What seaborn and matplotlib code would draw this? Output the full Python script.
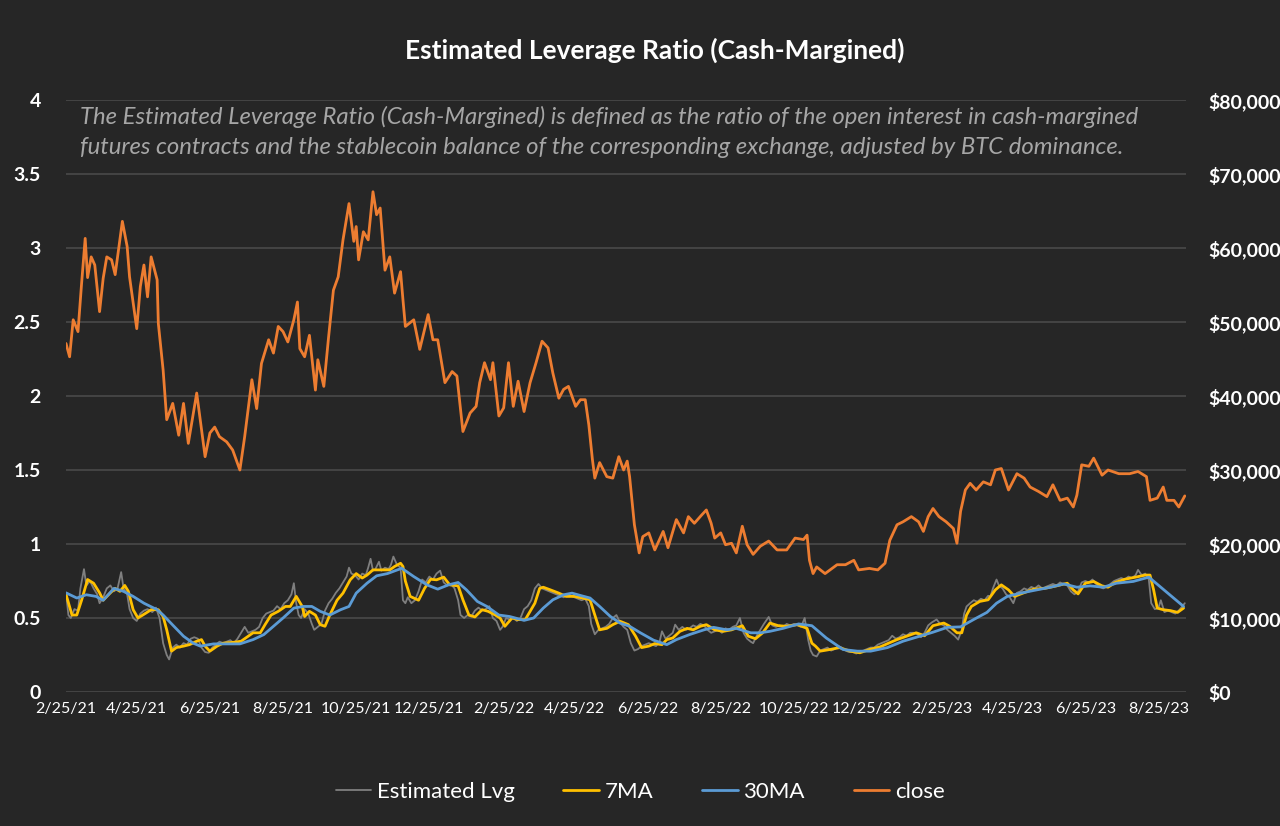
import numpy as np
import pandas as pd
import matplotlib
matplotlib.use("Agg")
import matplotlib.pyplot as plt
import seaborn as sns
from matplotlib.ticker import FixedLocator

# ---------------- data ----------------
START = "2021-02-25"

close_days = [0, 3, 6, 10, 13, 16, 18, 21, 24, 28, 31, 34, 38, 41, 44, 47, 51, 53, 59, 62,
              65, 68, 71, 76, 77, 81, 84, 89, 94, 98, 102, 109, 116, 120, 124, 128, 134, 139, 145, 149,
              155, 159, 163, 169, 173, 177, 181, 185, 190, 193, 195, 199, 203, 208, 210, 215, 219, 223, 227, 231,
              236, 240, 242, 244, 248, 252, 256, 259, 262, 266, 270, 274, 279, 281, 283, 290, 295, 302, 306, 310,
              316, 322, 326, 331, 337, 342, 345, 349, 354, 356, 361, 365, 369, 373, 377, 382, 387, 392, 397, 402,
              406, 411, 415, 419, 425, 429, 433, 436, 439, 441, 445, 451, 456, 461, 465, 468, 470, 474, 478, 481,
              486, 491, 498, 502, 509, 515, 519, 524, 530, 534, 538, 541, 546, 550, 555, 559, 564, 568, 573, 579,
              586, 593, 601, 608, 615, 618, 620, 623, 626, 633, 643, 650, 657, 661, 670, 677, 683, 687, 693, 698,
              705, 711, 715, 719, 723, 728, 734, 740, 743, 746, 750, 754, 759, 765, 771, 775, 780, 786, 793, 799,
              804, 811, 818, 823, 829, 835, 840, 843, 847, 853, 857, 864, 869, 878, 887, 894, 901, 904, 910, 915,
              918, 924, 928, 933]
close_k = [47.1, 45.3, 50.3, 48.7, 55.2, 61.3, 56.0, 58.8, 57.7, 51.4, 55.9, 58.8, 58.4, 56.4, 60.0, 63.6, 60.2, 56.1, 49.1, 54.8,
           57.7, 53.4, 58.8, 55.7, 49.8, 43.5, 36.8, 39.0, 34.7, 39.0, 33.6, 40.4, 31.8, 35.0, 35.8, 34.5, 33.8, 32.7, 30.0, 34.5,
           42.2, 38.3, 44.4, 47.6, 45.8, 49.4, 48.7, 47.3, 50.3, 52.7, 46.4, 45.3, 48.2, 40.8, 44.9, 41.3, 48.0, 54.3, 56.1, 61.1,
           66.0, 60.9, 62.9, 58.4, 62.2, 61.1, 67.6, 64.5, 65.4, 57.0, 58.8, 53.9, 56.8, 53.0, 49.4, 50.3, 46.3, 51.0, 47.6, 47.6,
           41.8, 43.3, 42.7, 35.2, 37.7, 38.6, 41.8, 44.5, 42.2, 44.5, 37.3, 38.4, 44.5, 38.6, 42.0, 37.9, 41.8, 44.5, 47.4, 46.5,
           43.1, 39.7, 40.9, 41.3, 38.6, 39.5, 39.5, 36.1, 31.4, 28.9, 31.0, 29.1, 28.9, 31.8, 30.0, 31.2, 29.1, 22.6, 18.8, 21.0,
           21.5, 19.2, 21.7, 19.5, 23.3, 21.5, 23.7, 22.8, 23.9, 24.6, 22.8, 20.8, 21.5, 19.9, 20.1, 18.8, 22.4, 19.9, 18.6, 19.7,
           20.4, 19.2, 19.2, 20.8, 20.6, 21.2, 17.8, 16.0, 16.9, 16.0, 17.2, 17.2, 17.8, 16.5, 16.7, 16.5, 17.4, 20.5, 22.6, 23.0,
           23.7, 23.0, 21.7, 23.7, 24.8, 23.7, 23.0, 22.1, 20.1, 24.4, 27.3, 28.2, 27.3, 28.4, 28.0, 30.0, 30.2, 27.3, 29.5, 28.9,
           27.7, 27.1, 26.4, 28.0, 25.9, 26.2, 25.0, 26.6, 30.7, 30.5, 31.6, 29.3, 30.0, 29.5, 29.5, 29.8, 29.1, 25.9, 26.2, 27.7,
           25.9, 25.9, 25.0, 26.5]

lvg_days = [0, 2, 4, 7, 10, 12, 15, 17, 20, 23, 26, 28, 31, 34, 37, 40, 43, 46, 48, 51,
            53, 56, 59, 62, 65, 68, 72, 75, 78, 81, 84, 86, 89, 92, 95, 98, 101, 104, 107, 110,
            113, 116, 119, 122, 125, 128, 131, 134, 137, 140, 143, 146, 149, 152, 155, 158, 161, 164, 167, 170,
            173, 176, 179, 182, 185, 188, 190, 192, 194, 196, 199, 202, 205, 207, 210, 213, 216, 219, 222, 225,
            228, 231, 234, 236, 238, 241, 244, 247, 250, 252, 254, 256, 258, 261, 263, 266, 269, 271, 273, 276,
            279, 281, 283, 285, 288, 291, 294, 297, 300, 303, 306, 309, 312, 315, 318, 321, 324, 327, 329, 332,
            335, 338, 341, 344, 347, 350, 353, 356, 359, 362, 364, 367, 370, 373, 376, 379, 382, 385, 388, 391,
            394, 397, 400, 403, 406, 409, 412, 415, 418, 421, 424, 427, 430, 433, 436, 438, 441, 444, 447, 450,
            453, 456, 459, 462, 465, 468, 471, 474, 477, 480, 483, 486, 489, 492, 495, 497, 500, 503, 506, 508,
            511, 514, 517, 520, 523, 526, 529, 532, 535, 538, 541, 544, 547, 550, 553, 556, 559, 562, 565, 568,
            571, 573, 576, 579, 582, 586, 589, 592, 595, 598, 601, 604, 607, 610, 613, 616, 619, 621, 623, 626,
            629, 632, 635, 638, 641, 644, 647, 650, 653, 656, 659, 662, 665, 668, 671, 674, 677, 680, 683, 686,
            689, 692, 695, 698, 701, 704, 707, 710, 713, 716, 719, 722, 726, 729, 732, 735, 738, 741, 744, 747,
            749, 751, 754, 757, 760, 763, 766, 769, 771, 773, 776, 778, 781, 784, 787, 790, 793, 796, 799, 802,
            805, 808, 811, 814, 817, 820, 823, 826, 829, 832, 835, 838, 841, 844, 847, 850, 853, 856, 859, 862,
            865, 868, 871, 874, 877, 880, 883, 886, 889, 892, 894, 897, 900, 903, 905, 908, 911, 913, 916, 919,
            922, 925, 928, 931, 933]
lvg_vals = [0.67, 0.52, 0.50, 0.56, 0.55, 0.70, 0.83, 0.72, 0.75, 0.70, 0.66, 0.60, 0.64, 0.70, 0.72, 0.68, 0.70, 0.81, 0.70, 0.66,
            0.56, 0.50, 0.48, 0.53, 0.55, 0.56, 0.54, 0.57, 0.50, 0.33, 0.25, 0.22, 0.30, 0.32, 0.30, 0.33, 0.32, 0.36, 0.37, 0.36,
            0.30, 0.27, 0.265, 0.30, 0.32, 0.34, 0.33, 0.34, 0.35, 0.33, 0.36, 0.40, 0.44, 0.40, 0.41, 0.42, 0.44, 0.50, 0.53, 0.54,
            0.55, 0.58, 0.56, 0.60, 0.62, 0.66, 0.735, 0.60, 0.52, 0.50, 0.56, 0.53, 0.46, 0.42, 0.44, 0.46, 0.55, 0.60, 0.63, 0.67,
            0.70, 0.74, 0.78, 0.84, 0.80, 0.79, 0.76, 0.80, 0.79, 0.84, 0.90, 0.82, 0.83, 0.88, 0.82, 0.84, 0.83, 0.86, 0.915, 0.86,
            0.84, 0.62, 0.60, 0.64, 0.60, 0.62, 0.68, 0.76, 0.74, 0.78, 0.76, 0.80, 0.82, 0.74, 0.72, 0.73, 0.70, 0.62, 0.52, 0.50,
            0.52, 0.51, 0.55, 0.57, 0.55, 0.56, 0.58, 0.50, 0.48, 0.42, 0.44, 0.50, 0.49, 0.50, 0.48, 0.50, 0.56, 0.58, 0.62, 0.70,
            0.73, 0.70, 0.69, 0.68, 0.67, 0.66, 0.65, 0.64, 0.66, 0.65, 0.64, 0.63, 0.62, 0.63, 0.58, 0.46, 0.39, 0.42, 0.43, 0.44,
            0.46, 0.50, 0.52, 0.47, 0.44, 0.42, 0.33, 0.28, 0.29, 0.31, 0.32, 0.33, 0.32, 0.31, 0.34, 0.41, 0.36, 0.38, 0.40, 0.455,
            0.42, 0.44, 0.42, 0.43, 0.45, 0.44, 0.46, 0.45, 0.42, 0.40, 0.41, 0.42, 0.40, 0.43, 0.42, 0.44, 0.45, 0.50, 0.40, 0.36,
            0.34, 0.33, 0.38, 0.42, 0.46, 0.507, 0.45, 0.44, 0.45, 0.44, 0.46, 0.45, 0.46, 0.45, 0.44, 0.50, 0.35, 0.28, 0.25, 0.24,
            0.28, 0.29, 0.30, 0.28, 0.29, 0.31, 0.30, 0.28, 0.27, 0.27, 0.26, 0.27, 0.28, 0.29, 0.30, 0.30, 0.32, 0.33, 0.34, 0.35,
            0.38, 0.36, 0.37, 0.39, 0.38, 0.40, 0.40, 0.39, 0.37, 0.40, 0.45, 0.47, 0.49, 0.46, 0.45, 0.42, 0.40, 0.38, 0.354, 0.42,
            0.53, 0.578, 0.60, 0.62, 0.61, 0.63, 0.62, 0.65, 0.646, 0.70, 0.76, 0.72, 0.70, 0.66, 0.64, 0.60, 0.67, 0.68, 0.70, 0.69,
            0.71, 0.70, 0.72, 0.70, 0.71, 0.72, 0.73, 0.72, 0.74, 0.73, 0.72, 0.68, 0.66, 0.68, 0.74, 0.75, 0.74, 0.76, 0.73, 0.71,
            0.70, 0.71, 0.73, 0.75, 0.76, 0.77, 0.76, 0.78, 0.77, 0.79, 0.825, 0.79, 0.80, 0.76, 0.60, 0.56, 0.567, 0.62, 0.54, 0.55,
            0.54, 0.53, 0.55, 0.58, 0.60]

ma7_days = [0, 5, 9, 13, 18, 23, 28, 31, 37, 41, 45, 49, 52, 56, 60, 66, 71, 77, 81, 84,
            88, 92, 98, 103, 109, 113, 116, 120, 126, 131, 140, 146, 152, 156, 162, 166, 171, 177, 183, 187,
            192, 197, 199, 203, 208, 212, 216, 220, 226, 231, 237, 242, 247, 251, 256, 263, 270, 274, 279, 281,
            283, 287, 294, 299, 304, 309, 315, 320, 327, 331, 336, 341, 347, 352, 358, 362, 366, 372, 377, 383,
            387, 391, 395, 398, 404, 411, 417, 424, 431, 437, 441, 445, 451, 456, 462, 469, 475, 480, 486, 491,
            497, 501, 506, 512, 518, 523, 529, 534, 541, 548, 555, 564, 569, 575, 581, 587, 594, 601, 610, 618,
            622, 625, 629, 637, 645, 654, 662, 670, 679, 686, 693, 701, 709, 716, 723, 732, 737, 743, 747, 751,
            755, 762, 769, 775, 780, 786, 791, 798, 807, 816, 826, 835, 840, 844, 850, 857, 864, 869, 875, 883,
            892, 900, 904, 907, 910, 915, 921, 927, 932]
ma7_vals = [0.66, 0.52, 0.52, 0.62, 0.76, 0.735, 0.67, 0.62, 0.67, 0.70, 0.68, 0.72, 0.68, 0.556, 0.50, 0.53, 0.556, 0.556, 0.51, 0.42,
            0.276, 0.30, 0.31, 0.32, 0.343, 0.354, 0.31, 0.276, 0.31, 0.33, 0.336, 0.343, 0.377, 0.40, 0.40, 0.455, 0.52, 0.545, 0.578, 0.578,
            0.646, 0.578, 0.51, 0.545, 0.52, 0.455, 0.444, 0.52, 0.62, 0.668, 0.758, 0.80, 0.77, 0.79, 0.825, 0.825, 0.825, 0.848, 0.87, 0.848,
            0.75, 0.646, 0.62, 0.70, 0.762, 0.758, 0.776, 0.724, 0.717, 0.623, 0.52, 0.507, 0.556, 0.545, 0.52, 0.50, 0.444, 0.50, 0.489, 0.489,
            0.545, 0.60, 0.70, 0.708, 0.69, 0.668, 0.646, 0.646, 0.635, 0.623, 0.52, 0.42, 0.43, 0.455, 0.478, 0.455, 0.377, 0.30, 0.31, 0.327,
            0.32, 0.354, 0.365, 0.41, 0.43, 0.42, 0.444, 0.455, 0.42, 0.41, 0.42, 0.448, 0.377, 0.36, 0.40, 0.466, 0.448, 0.444, 0.455, 0.43,
            0.33, 0.31, 0.276, 0.287, 0.30, 0.276, 0.265, 0.287, 0.305, 0.33, 0.354, 0.377, 0.40, 0.38, 0.448, 0.466, 0.444, 0.40, 0.40, 0.52,
            0.578, 0.612, 0.623, 0.69, 0.724, 0.69, 0.646, 0.668, 0.695, 0.70, 0.717, 0.735, 0.69, 0.663, 0.735, 0.747, 0.717, 0.708, 0.74, 0.762,
            0.776, 0.79, 0.79, 0.69, 0.567, 0.556, 0.55, 0.538, 0.567]

ma30_days = [0, 9, 17, 25, 31, 40, 48, 56, 65, 76, 81, 90, 98, 106, 112, 123, 134, 145, 156, 165,
             173, 181, 190, 198, 205, 212, 220, 229, 236, 242, 251, 259, 268, 274, 280, 290, 301, 310, 319, 327,
             334, 343, 351, 361, 370, 382, 390, 398, 406, 415, 422, 430, 437, 445, 454, 462, 470, 479, 490, 501,
             509, 520, 532, 540, 551, 559, 571, 579, 587, 598, 611, 622, 634, 648, 660, 671, 685, 698, 712, 723,
             735, 746, 757, 768, 776, 785, 796, 807, 821, 832, 843, 854, 865, 876, 890, 903, 932]
ma30_vals = [0.67, 0.635, 0.657, 0.646, 0.62, 0.70, 0.68, 0.646, 0.60, 0.556, 0.52, 0.444, 0.377, 0.33, 0.31, 0.325, 0.325, 0.325, 0.354, 0.388,
             0.444, 0.50, 0.567, 0.578, 0.578, 0.545, 0.52, 0.556, 0.578, 0.668, 0.735, 0.785, 0.80, 0.818, 0.836, 0.78, 0.724, 0.695, 0.724, 0.74,
             0.69, 0.612, 0.578, 0.52, 0.51, 0.484, 0.50, 0.567, 0.623, 0.657, 0.668, 0.65, 0.635, 0.578, 0.51, 0.466, 0.444, 0.40, 0.35, 0.32,
             0.354, 0.388, 0.42, 0.437, 0.42, 0.43, 0.40, 0.40, 0.41, 0.43, 0.46, 0.448, 0.365, 0.287, 0.276, 0.276, 0.30, 0.343, 0.377, 0.404,
             0.437, 0.44, 0.49, 0.538, 0.60, 0.646, 0.668, 0.686, 0.708, 0.73, 0.708, 0.717, 0.708, 0.735, 0.747, 0.776, 0.578]

x_tick_labels = ["2/25/21", "4/25/21", "6/25/21", "8/25/21", "10/25/21", "12/25/21",
                 "2/25/22", "4/25/22", "6/25/22", "8/25/22", "10/25/22", "12/25/22",
                 "2/25/23", "4/25/23", "6/25/23", "8/25/23"]
left_ticks = [0, 0.5, 1, 1.5, 2, 2.5, 3, 3.5, 4]
left_tick_labels = ["0", "0.5", "1", "1.5", "2", "2.5", "3", "3.5", "4"]
right_ticks_k = [0, 10, 20, 30, 40, 50, 60, 70, 80]
right_tick_labels = ["$0", "$10,000", "$20,000", "$30,000", "$40,000",
                     "$50,000", "$60,000", "$70,000", "$80,000"]

title = "Estimated Leverage Ratio (Cash-Margined)"
subtitle_1 = "The Estimated Leverage Ratio (Cash-Margined) is defined as the ratio of the open interest in cash-margined"
subtitle_2 = "futures contracts and the stablecoin balance of the corresponding exchange, adjusted by BTC dominance."
series_names = ["Estimated Lvg", "7MA", "30MA", "close"]

# ---------------- styling ----------------
BG = "#262626"
GRID = "#4a4a4a"
C_LVG = "#7f7f7f"
C_MA7 = "#ffc000"
C_MA30 = "#5b9bd5"
C_CLOSE = "#ed7d31"

sns.set_theme(style="dark", rc={"axes.facecolor": BG, "figure.facecolor": BG,
                                "savefig.facecolor": BG})
plt.rcParams["font.family"] = ["Lato", "DejaVu Sans"]


def to_dates(days):
    return pd.Timestamp(START) + pd.to_timedelta(days, unit="D")


df_close = pd.DataFrame({"date": to_dates(close_days), "value": close_k})
df_lvg = pd.DataFrame({"date": to_dates(lvg_days), "value": lvg_vals})
df_ma7 = pd.DataFrame({"date": to_dates(ma7_days), "value": ma7_vals})
df_ma30 = pd.DataFrame({"date": to_dates(ma30_days), "value": ma30_vals})

W, H = 1280, 826
fig = plt.figure(figsize=(W / 100, H / 100), dpi=100)
ax = fig.add_axes([66 / W, 1 - 692 / H, 1120 / W, 592 / H])
ax.set_facecolor(BG)

sns.lineplot(data=df_lvg, x="date", y="value", ax=ax, color=C_LVG, lw=1.3, label=series_names[0], legend=False)
sns.lineplot(data=df_ma7, x="date", y="value", ax=ax, color=C_MA7, lw=2.0, label=series_names[1], legend=False)
sns.lineplot(data=df_ma30, x="date", y="value", ax=ax, color=C_MA30, lw=2.0, label=series_names[2], legend=False)

ax2 = ax.twinx()
sns.lineplot(data=df_close, x="date", y="value", ax=ax2, color=C_CLOSE, lw=2.0, label=series_names[3], legend=False)

x0 = pd.Timestamp(START)
x1 = x0 + pd.Timedelta(days=934)
ax.set_xlim(x0, x1)
ax.set_ylim(0, 4)
ax2.set_ylim(0, 80)

tick_dates = pd.to_datetime(x_tick_labels, format="%m/%d/%y")
ax.set_xticks(tick_dates)
ax.set_xticklabels(x_tick_labels, color="white", fontsize=11.5)
ax.yaxis.set_major_locator(FixedLocator(left_ticks))
ax.set_yticklabels(left_tick_labels, color="white", fontsize=14, fontweight="bold")
ax2.yaxis.set_major_locator(FixedLocator(right_ticks_k))
ax2.set_yticklabels(right_tick_labels, color="white", fontsize=14, fontweight="bold")

ax.tick_params(axis="x", length=0, pad=7)
ax.tick_params(axis="y", length=0, pad=18)
ax2.tick_params(axis="y", length=0, pad=16)

ax.grid(True, axis="y", color=GRID, lw=1.2)
ax.grid(False, axis="x")
ax2.grid(False)
ax.set_xlabel("")
ax.set_ylabel("")
ax2.set_xlabel("")
ax2.set_ylabel("")
for a in (ax, ax2):
    for s in a.spines.values():
        s.set_visible(False)

fig.text(655 / W, 1 - 50 / H, title, ha="center", va="center", color="white",
         fontsize=19, fontweight="bold")
fig.text(80 / W, 1 - 117 / H, subtitle_1, ha="left", va="center", color="#a6a6a6",
         fontsize=17.2, style="italic")
fig.text(80 / W, 1 - 148 / H, subtitle_2, ha="left", va="center", color="#a6a6a6",
         fontsize=17.2, style="italic")

handles = ax.get_lines()[:3] + ax2.get_lines()[:1]
leg = fig.legend(handles, series_names, loc="center", bbox_to_anchor=(640 / W, 1 - 792 / H),
                 ncol=4, frameon=False, fontsize=16, handlelength=1.6, handletextpad=0.25,
                 columnspacing=2.2)
for t in leg.get_texts():
    t.set_color("white")

fig.savefig("out.png", dpi=100, facecolor=BG)
